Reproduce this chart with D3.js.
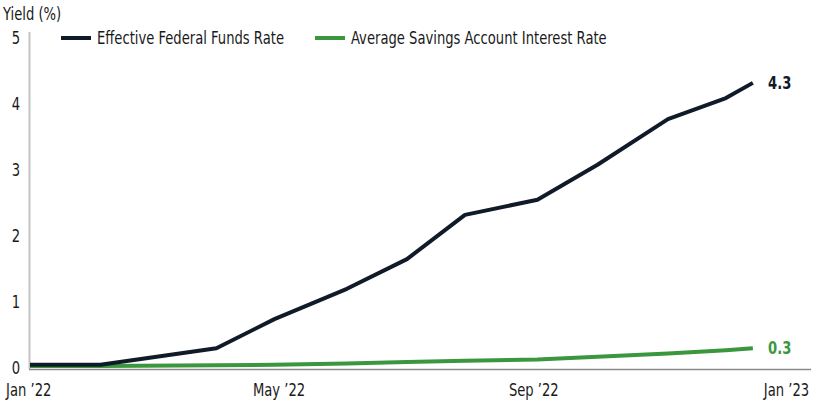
<!DOCTYPE html>
<html><head><meta charset="utf-8">
<script src="https://cdn.jsdelivr.net/npm/d3@7"></script>
<style>
body{margin:0;background:#fff;}
svg text{font-family:"DejaVu Sans Condensed","DejaVu Sans",sans-serif;}
</style></head>
<body><svg id="c" width="815" height="400"></svg>
<script>
const dates = ["2022-01-01","2022-02-04","2022-04-01","2022-04-29","2022-06-03","2022-07-02","2022-07-30","2022-09-03","2022-10-02","2022-11-05","2022-12-03","2022-12-16"];
const fedFunds = [0.05,0.05,0.30,0.74,1.20,1.65,2.32,2.55,3.08,3.77,4.09,4.32];
const savings  = [0.03,0.03,0.04,0.05,0.07,0.09,0.11,0.13,0.17,0.22,0.27,0.30];
const seriesNames = ["Effective Federal Funds Rate","Average Savings Account Interest Rate"];
const seriesColors = ["#101a28","#3b973d"];
const endLabels = ["4.3","0.3"];
const yTicks = [0,1,2,3,4,5];
const xTicks = ["2022-01-01","2022-05-01","2022-09-01","2023-01-01"];
const yTitle = "Yield (%)";

const SX = 0.86, FS = 17;
function cond(sel, xpos){
  sel.attr("x", xpos / SX).attr("transform", `scale(${SX},1)`);
}
const parse = d3.timeParse("%Y-%m-%d");
const svg = d3.select("#c");
const x = d3.scaleTime().domain([parse("2022-01-01"), parse("2023-01-01")]).range([30, 786]);
const y = d3.scaleLinear().domain([0,5]).range([368, 38]);

svg.append("line").attr("x1",29.5).attr("x2",29.5).attr("y1",32).attr("y2",369).attr("stroke","#c4c4c4").attr("stroke-width",2);
svg.append("line").attr("x1",29).attr("x2",811).attr("y1",369.5).attr("y2",369.5).attr("stroke","#8a8a8a").attr("stroke-width",1.5);

const yAxis = d3.axisLeft(y).tickValues(yTicks).tickSize(0).tickPadding(0).tickFormat(d3.format("d"));
const gy = svg.append("g").attr("transform","translate(20,0)").call(yAxis);
gy.select(".domain").remove();
gy.selectAll("text").attr("font-size",FS).attr("fill","#1a1a1a").attr("font-family",null).attr("transform",`scale(${SX},1)`);

const xAxis = d3.axisBottom(x).tickValues(xTicks.map(parse)).tickSize(0).tickPadding(0).tickFormat(d3.timeFormat("%b \u2019%y"));
const gx = svg.append("g").attr("transform","translate(0,384)").call(xAxis);
gx.select(".domain").remove();
gx.selectAll("text").attr("font-size",FS).attr("fill","#1a1a1a").attr("font-family",null).attr("transform",`scale(${SX},1)`);
gx.selectAll(".tick").filter((d,i)=>i===0).select("text").attr("dx",-2);

cond(svg.append("text").attr("y",20).attr("font-size",FS).attr("fill","#1a1a1a").text(yTitle), 3);

const data = [fedFunds, savings];
const line = d3.line().x((d,i)=>x(parse(dates[i]))).y(d=>y(d));
[1,0].forEach(k=>{
  svg.append("path").datum(data[k]).attr("d",line).attr("fill","none")
    .attr("stroke",seriesColors[k]).attr("stroke-width",4).attr("stroke-linejoin","round");
});
[0,1].forEach(k=>{
  const v = data[k][data[k].length-1];
  cond(svg.append("text").attr("y",y(v)).attr("dy","0.35em")
    .attr("font-size",FS).attr("font-weight","bold").attr("fill",seriesColors[k]).text(endLabels[k]), 768);
});

const legX = [61, 315];
seriesNames.forEach((n,k)=>{
  const g = svg.append("g").attr("transform",`translate(${legX[k]},38)`);
  g.append("line").attr("x1",0).attr("x2",30).attr("y1",0).attr("y2",0).attr("stroke",seriesColors[k]).attr("stroke-width",4);
  cond(g.append("text").attr("y",0).attr("dy","0.35em").attr("font-size",FS).attr("fill","#1a1a1a").text(n), 36);
});
</script></body></html>
